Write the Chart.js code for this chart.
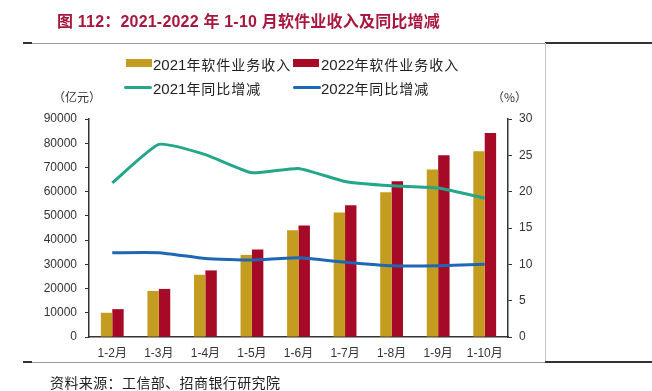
<!DOCTYPE html>
<html>
<head>
<meta charset="utf-8">
<script src="https://cdn.jsdelivr.net/npm/chart.js@4/dist/chart.umd.min.js"></script>
<style>
  html,body{margin:0;padding:0;background:#fff;}
  body{width:652px;height:391px;position:relative;overflow:hidden;font-family:"Liberation Sans","Noto Sans CJK SC",sans-serif;}
  #c{position:absolute;left:0;top:0;}
  .abs{position:absolute;white-space:nowrap;}
  #title{left:57px;top:11px;font:bold 16px "Liberation Sans","Noto Sans CJK SC",sans-serif;color:#A8173E;line-height:22px;letter-spacing:0.2px;}
  .hl{position:absolute;height:1px;background:#9a9a9a;}
  .dk{position:absolute;height:2px;background:#333;}
  #vline{position:absolute;left:545px;top:43px;width:1px;height:319px;background:#c8c8c8;}
  .unit{font:12px "Noto Sans CJK SC",sans-serif;color:#333;line-height:16px;}
  #source{left:50px;top:373px;font:14px "Noto Sans CJK SC",sans-serif;color:#222;line-height:18px;letter-spacing:0.4px;}
  .lg{position:absolute;line-height:18px;color:#222;white-space:nowrap;}
  .lg .num{font:15px "Liberation Sans",sans-serif;}
  .lg .cjk{font:14px "Noto Sans CJK SC",sans-serif;letter-spacing:1px;}
  .sw{position:absolute;}
</style>
</head>
<body>
<canvas id="c" width="652" height="391"></canvas>
<div id="title" class="abs"></div>
<div class="hl" style="left:23px;top:43px;width:522px;"></div>
<div class="dk" style="left:23px;top:42px;width:9px;"></div>
<div class="dk" style="left:545px;top:42px;width:107px;"></div>
<div id="vline"></div>
<div class="hl" style="left:23px;top:362px;width:522px;"></div>
<div class="dk" style="left:23px;top:361px;width:9px;"></div>
<div class="dk" style="left:545px;top:361px;width:107px;"></div>
<div id="unitL" class="abs unit" style="left:53px;top:89px;"></div>
<div id="unitR" class="abs unit" style="left:492px;top:89px;"></div>
<div id="legend"></div>
<div id="source" class="abs"></div>
<script>
// ---- data ----
const titleText = "图 112：2021-2022 年 1-10 月软件业收入及同比增减";
const sourceText = "资料来源：工信部、招商银行研究院";
const unitLeft = "（亿元）";
const unitRight = "（%）";
const categories = ["1-2月","1-3月","1-4月","1-5月","1-6月","1-7月","1-8月","1-9月","1-10月"];
const seriesNames = ["2021年软件业务收入","2022年软件业务收入","2021年同比增减","2022年同比增减"];
const revenue2021 = [10000, 19000, 25700, 33900, 44100, 51400, 59800, 69200, 76700];
const revenue2022 = [11500, 19850, 27500, 36100, 46000, 54400, 64300, 75000, 84200];
const growth2021 = [21.2, 26.5, 25.1, 22.6, 23.2, 21.4, 20.8, 20.5, 19.1];
const growth2022 = [11.6, 11.6, 10.8, 10.6, 10.9, 10.3, 9.8, 9.8, 10.0];
const leftTicks = [0,10000,20000,30000,40000,50000,60000,70000,80000,90000];
const rightTicks = [0,5,10,15,20,25,30];

// ---- styles ----
const colors = ["#C49C1F","#A70A27","#23A68A","#1F66B5"];
const axisColor = "#333";
const tickFont = {family:"'Liberation Sans','Noto Sans CJK SC',sans-serif", size:12};

document.getElementById('title').textContent = titleText;
document.getElementById('source').textContent = sourceText;
document.getElementById('unitL').textContent = unitLeft;
document.getElementById('unitR').textContent = unitRight;

// legend (HTML, built from series names / colors)
const legendPos = [
  {sx:126, tx:153, y:63, type:'rect'},
  {sx:293, tx:321, y:63, type:'rect'},
  {sx:124, tx:153, y:87, type:'line'},
  {sx:293, tx:321, y:87, type:'line'}
];
const lg = document.getElementById('legend');
seriesNames.forEach((name,i)=>{
  const p = legendPos[i];
  const sw = document.createElement('div');
  sw.className='sw';
  if(p.type==='rect'){
    sw.style.cssText=`left:${p.sx}px;top:${p.y-4}px;width:26px;height:8px;background:${colors[i]};`;
  } else {
    sw.style.cssText=`left:${p.sx}px;top:${p.y-1.5}px;width:28px;height:3px;border-radius:1.5px;background:${colors[i]};`;
  }
  lg.appendChild(sw);
  const t = document.createElement('div');
  t.className='lg';
  t.style.left=p.tx+'px'; t.style.top=(p.y-9)+'px';
  const m = name.match(/^(\d+)(.*)$/);
  t.innerHTML = `<span class="num">${m[1]}</span><span class="cjk">${m[2]}</span>`;
  lg.appendChild(t);
});

const ctx = document.getElementById('c').getContext('2d');
new Chart(ctx, {
  data: {
    labels: categories,
    datasets: [
      {type:'line', label:seriesNames[2], data:growth2021, yAxisID:'yR', borderColor:colors[2], borderWidth:3, pointRadius:0, tension:0.15, order:0},
      {type:'line', label:seriesNames[3], data:growth2022, yAxisID:'yR', borderColor:colors[3], borderWidth:3, pointRadius:0, tension:0.15, order:1},
      {type:'bar', label:seriesNames[0], data:revenue2021, yAxisID:'yL', backgroundColor:colors[0], order:2, categoryPercentage:0.49, barPercentage:1.0},
      {type:'bar', label:seriesNames[1], data:revenue2022, yAxisID:'yL', backgroundColor:colors[1], order:3, categoryPercentage:0.49, barPercentage:1.0}
    ]
  },
  options: {
    responsive:false,
    animation:false,
    layout:{padding:{top:119,left:0,right:0,bottom:0}},
    plugins:{legend:{display:false}, tooltip:{enabled:false}},
    scales:{
      x:{
        grid:{drawOnChartArea:false, drawTicks:false},
        border:{display:true, color:axisColor, width:1.5},
        ticks:{font:tickFont, color:'#333', padding:9, maxRotation:0, autoSkip:false},
        afterFit(s){ s.height = 54; }
      },
      yL:{
        position:'left', min:0, max:90000,
        afterBuildTicks(s){ s.ticks = leftTicks.map(v=>({value:v})); },
        grid:{drawOnChartArea:false, drawTicks:true, tickLength:4, color:axisColor},
        border:{display:true, color:axisColor, width:1.5},
        ticks:{font:tickFont, color:'#333', padding:8, callback:(v)=>String(v)},
        afterFit(s){ s.width = 89; }
      },
      yR:{
        position:'right', min:0, max:30,
        afterBuildTicks(s){ s.ticks = rightTicks.map(v=>({value:v})); },
        grid:{drawOnChartArea:false, drawTicks:true, tickLength:4, color:axisColor},
        border:{display:true, color:axisColor, width:1.5},
        ticks:{font:tickFont, color:'#333', padding:7, callback:(v)=>String(v)},
        afterFit(s){ s.width = 144; }
      }
    }
  }
});
</script>
</body>
</html>
